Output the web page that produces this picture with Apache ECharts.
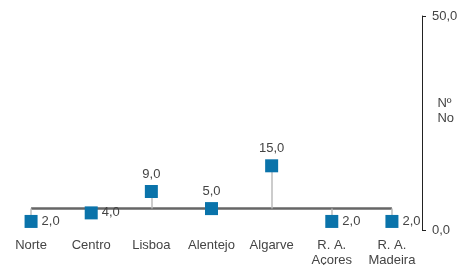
<!DOCTYPE html>
<html>
<head>
<meta charset="utf-8">
<script src="https://cdn.jsdelivr.net/npm/echarts@6/dist/echarts.min.js"></script>
<style>
  html, body { margin: 0; padding: 0; background: #fff; }
  #chart { width: 464px; height: 265px; }
</style>
</head>
<body>
<div id="chart"></div>
<script>
const categories = ['Norte', 'Centro', 'Lisboa', 'Alentejo', 'Algarve', 'R. A.\nAçores', 'R. A.\nMadeira']
const values = [2, 4, 9, 5, 15, 2, 2]
const baseline = 5
const yTicks = [0, 50]
const yName = 'Nº\nNo'

const fmt = v => v.toFixed(1).replace('.', ',')

const chart = echarts.init(document.getElementById('chart'))

// hastes verticais entre a linha de referência e cada ponto
const stems = categories.map((c, i) => [
  { coord: [c, baseline] },
  { coord: [c, values[i]] }
])

const option = {
  animation: false,
  textStyle: { fontFamily: 'Liberation Sans, Arial, sans-serif' },
  grid: { left: 1, right: 42, top: 16, bottom: 35, outerBoundsMode: 'none', containLabel: false },
  graphic: [
    {
      type: 'text',
      right: 10,
      top: 96,
      style: { text: yName, fill: '#444', fontSize: 13, lineHeight: 15, align: 'left', font: '13px Liberation Sans, Arial, sans-serif' }
    }
  ],
  xAxis: {
    type: 'category',
    data: categories,
    axisLine: { show: false },
    axisTick: { show: false },
    axisLabel: { color: '#444', fontSize: 13, margin: 8, lineHeight: 15, interval: 0, hideOverlap: false }
  },
  yAxis: {
    type: 'value',
    position: 'right',
    min: yTicks[0],
    max: yTicks[1],
    interval: 50,
    axisLine: { show: true, lineStyle: { color: '#222', width: 1 } },
    axisTick: { show: true, length: 4, lineStyle: { color: '#222' } },
    splitLine: { show: false },
    axisLabel: { color: '#444', fontSize: 13, margin: 10, formatter: v => fmt(v) }
  },
  series: [
    {
      type: 'scatter',
      symbol: 'rect',
      symbolSize: 13,
      itemStyle: { color: '#0a73aa', opacity: 1 },
      z: 5,
      data: values.map(v => ({
        value: v,
        label: {
          show: true,
          position: v >= baseline ? 'top' : 'right',
          distance: 4,
          color: '#444',
          fontSize: 13,
          formatter: p => fmt(p.value)
        }
      })),
      markLine: {
        silent: true,
        symbol: 'none',
        label: { show: false },
        lineStyle: { color: '#bbb', width: 1.5, type: 'solid' },
        data: stems
      }
    },
    {
      type: 'line',
      data: [],
      markLine: {
        silent: true,
        symbol: 'none',
        label: { show: false },
        lineStyle: { color: '#666', width: 2.5, type: 'solid' },
        z: 3,
        data: [[{ coord: [categories[0], baseline] }, { coord: [categories[categories.length - 1], baseline] }]]
      }
    }
  ]
}

chart.setOption(option)
</script>
</body>
</html>
